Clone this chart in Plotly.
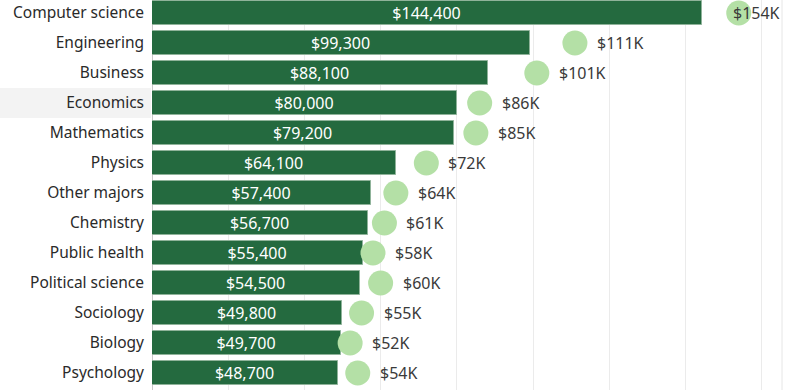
import plotly.graph_objects as go

majors = ["Computer science", "Engineering", "Business", "Economics", "Mathematics",
          "Physics", "Other majors", "Chemistry", "Public health", "Political science",
          "Sociology", "Biology", "Psychology"]
bar_values = [144400, 99300, 88100, 80000, 79200, 64100, 57400, 56700, 55400, 54500,
              49800, 49700, 48700]
circle_values = [154000, 111000, 101000, 86000, 85000, 72000, 64000, 61000, 58000,
                 60000, 55000, 52000, 54000]
circle_labels = ["$154K", "$111K", "$101K", "$86K", "$85K", "$72K", "$64K", "$61K",
                 "$58K", "$60K", "$55K", "$52K", "$54K"]
highlight = "Economics"

FONT = "Noto Sans"
ypos = list(range(len(majors)))

fig = go.Figure()
fig.add_trace(go.Bar(
    x=bar_values, y=ypos, orientation="h", width=0.83,
    marker=dict(color="#246a3f", line=dict(color="#8fb39a", width=1)),
    text=[f"${v:,}" for v in bar_values], textposition="inside",
    insidetextanchor="middle", textangle=0, constraintext="none",
    textfont=dict(color="white", size=16, family=FONT),
    hoverinfo="skip", cliponaxis=False,
))
fig.add_trace(go.Scatter(
    x=circle_values, y=ypos, mode="markers",
    marker=dict(size=25, color="#b4e0a6", line=dict(width=0)),
    hoverinfo="skip", cliponaxis=False,
))

for i, (v, lab) in enumerate(zip(circle_values, circle_labels)):
    shift = 20 if i > 0 else -8
    fig.add_annotation(x=v, y=i, text=lab, showarrow=False, xanchor="left",
                       xshift=shift, font=dict(size=16, color="#3a3a3a", family=FONT))

hi = majors.index(highlight)
fig.add_shape(type="rect", xref="paper", yref="y", x0=-152/634, x1=-1/634,
              y0=hi - 0.5, y1=hi + 0.5, fillcolor="#f3f3f3", line=dict(width=0),
              layer="below")
fig.add_shape(type="line", xref="paper", yref="paper", x0=630/634, x1=630/634,
              y0=0, y1=1, line=dict(color="#e6e6e6", width=1), layer="below")

fig.update_layout(
    width=786, height=390, margin=dict(l=152, r=0, t=0, b=0, autoexpand=False),
    paper_bgcolor="white", plot_bgcolor="white", showlegend=False,
    bargap=0, hovermode=False,
    xaxis=dict(range=[0, 166400], dtick=20000, showgrid=True, gridcolor="#ebebeb",
               gridwidth=1, showticklabels=False, zeroline=True, zerolinecolor="#c8c8c8",
               zerolinewidth=1, fixedrange=True, automargin=False),
    yaxis=dict(tickvals=ypos, ticktext=majors, range=[12.5667, -0.4333],
               showgrid=False, zeroline=False, ticks="", ticklabelstandoff=7,
               automargin=False, fixedrange=True,
               tickfont=dict(size=15.5, color="#2a2a2a", family=FONT)),
)

fig.write_html("out.html", config={"displayModeBar": False},
               post_script="document.body.style.margin='0';document.body.style.overflow='hidden';")
